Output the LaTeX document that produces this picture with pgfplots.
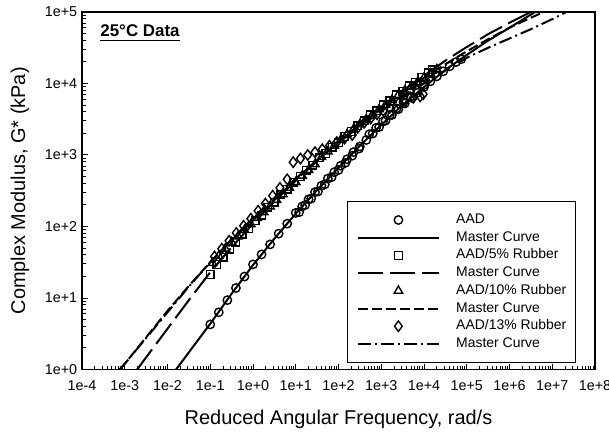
\documentclass[border=0pt]{standalone}
\usepackage{pgfplots}
\pgfplotsset{compat=1.18}
\usepackage{fontspec}
\setmainfont{Liberation Sans}
\begin{document}
\begin{tikzpicture}
\begin{loglogaxis}[
  name=ax,
  scale only axis,
  width=256.5bp, height=178.75bp,
  xmin=1e-4, xmax=1e8, ymin=1, ymax=1e5,
  xtickten={-4,-3,-2,-1,0,1,2,3,4,5,6,7,8},
  ytickten={0,1,2,3,4,5},
  minor xtick={2e-4,3e-4,4e-4,5e-4,6e-4,7e-4,8e-4,9e-4,
    2e-3,3e-3,4e-3,5e-3,6e-3,7e-3,8e-3,9e-3,
    2e-2,3e-2,4e-2,5e-2,6e-2,7e-2,8e-2,9e-2,
    0.2,0.3,0.4,0.5,0.6,0.7,0.8,0.9,
    2,3,4,5,6,7,8,9,
    20,30,40,50,60,70,80,90,
    200,300,400,500,600,700,800,900,
    2e3,3e3,4e3,5e3,6e3,7e3,8e3,9e3,
    2e4,3e4,4e4,5e4,6e4,7e4,8e4,9e4,
    2e5,3e5,4e5,5e5,6e5,7e5,8e5,9e5,
    2e6,3e6,4e6,5e6,6e6,7e6,8e6,9e6,
    2e7,3e7,4e7,5e7,6e7,7e7,8e7,9e7},
  minor ytick={2,3,4,5,6,7,8,9,
    20,30,40,50,60,70,80,90,
    200,300,400,500,600,700,800,900,
    2e3,3e3,4e3,5e3,6e3,7e3,8e3,9e3,
    2e4,3e4,4e4,5e4,6e4,7e4,8e4,9e4},
  xticklabels={1e-4,1e-3,1e-2,1e-1,1e+0,1e+1,1e+2,1e+3,1e+4,1e+5,1e+6,1e+7,1e+8},
  yticklabels={1e+0,1e+1,1e+2,1e+3,1e+4,1e+5},
  /pgf/number format/assume math mode=true,
  tick pos=left, tick align=inside,
  major tick length=3bp, minor tick length=2bp,
  every tick/.style={black, line width=0.5bp},
  axis line style={line width=0.75bp},
  tick label style={font=\fontsize{7.2}{8}\selectfont, inner sep=0pt},
  xticklabel shift=5.2bp,
  yticklabel shift=2.2bp,
  every axis x label/.style={at={(rel axis cs:0.5,0)}, yshift=-24.75bp, anchor=center},
  every axis y label/.style={at={(rel axis cs:0,0.5)}, xshift=-31bp, rotate=90, anchor=center},
  label style={font=\fontsize{10}{12}\selectfont},
  xlabel={Reduced Angular Frequency, rad/s},
  ylabel={Complex Modulus, G* (kPa)},
  legend image code/.code={\path[draw=none,fill=none] (0bp,-2bp) rectangle (40.8bp,2bp);
    \draw[mark repeat=2,mark phase=2] plot coordinates {(0bp,0bp) (20.4bp,0bp) (40.8bp,0bp)};},
  legend style={at={(rel axis cs:1,0)}, anchor=south east, xshift=-9.5bp, yshift=3.4bp,
    draw=black, line width=0.5bp, inner xsep=4.6bp, inner ysep=5.9bp,
    font=\fontsize{7}{8}\selectfont, row sep=2.35bp, column sep=8bp,
    nodes={inner sep=0pt, text height=5bp, text depth=1.5bp}},
  legend cell align=left,
]
% AAD data
\addplot[only marks, mark=o, mark size=2.1bp, mark options={line width=0.7bp}] coordinates {
(0.1,4.27) (0.1585,6.31) (0.2512,9.33) (0.3981,13.8) (0.631,19.95) (1,29.5) (1.585,40.7) (2.512,56.2) (3.981,79.4) (6.31,109.6) (10,154.9) (14.13,190.5) (19.95,239.9) (28.18,302) (39.81,371.5) (56.23,467.7) (79.43,575.4) (112.2,707.9) (158.5,871) (223.9,1096) (316.2,1318) (446.7,1622) (631,1995) (891.3,2455) (1259,3020) (1778,3631) (2512,4365) (3548,5248) (5012,6310) (7079,7413) (1e4,8913) (14130,10720) (19950,12590) (28180,14790) (39810,17380) (56230,19950) (74130,21880)
(12.02,158.5) (16.6,199.5) (22.91,245.5) (33.11,309) (47.86,389) (69.18,489.8) (100,616.6) (144.5,776.2) (208.9,977.2) (302,1230)
(524.8,1950) (758.6,2399) (1096,2951) (1585,3631) (2291,4467) (3311,5495) (4786,6607) (6918,7943) (1e4,9550)
};
\addlegendentry{AAD}
\addplot[line width=1bp] coordinates {
(1.585e-2,1) (3.162e-2,1.738) (0.1,4.365) (0.3162,11.48) (1,28.84) (3.162,67.6) (10,151.4) (31.62,323.6) (100,660.7) (316.2,1349) (1000,2630) (3162,5012) (1e4,8913) (3.162e4,15490) (1e5,25120) (3.162e5,39810) (1e6,60260) (3.981e6,1e5)
};
\addlegendentry{Master Curve}
% 5% data
\addplot[only marks, mark=square, mark size=1.9bp, mark options={line width=0.7bp}] coordinates {
(0.1,21.38) (0.1413,29.51) (0.1995,37.15) (0.2818,47.86) (0.3981,60.26) (0.5623,77.62) (0.7943,93.33) (1.122,120.2) (1.585,144.5) (2.239,186.2) (3.162,218.8) (4.467,281.8) (6.31,331.1) (8.913,416.9) (12.59,501.2) (17.78,616.6) (25.12,724.4) (35.48,912) (50.12,1047) (70.79,1288) (100,1479) (141.3,1820) (199.5,2138) (281.8,2570) (398.1,3020) (562.3,3631) (794.3,4169) (1122,5012) (1585,5754) (2239,6918) (3162,7762) (4467,9333) (6310,10470) (8913,12300) (12590,14130) (15850,15490)
};
\addlegendentry{AAD/5\% Rubber}
\addplot[line width=1bp, dash pattern=on 12.5bp off 3.5bp] coordinates {
(1.95e-3,1) (3.162e-3,1.479) (1e-2,3.715) (3.162e-2,9.333) (0.1,22.91) (0.3162,51.29) (1,109.6) (3.162,223.9) (10,436.5) (31.62,831.8) (100,1514) (316.2,2692) (1000,4677) (3162,7943) (1e4,12880) (3.162e4,20890) (1e5,32360) (3.162e5,48980) (1e6,70790) (3.162e6,1e5)
};
\addlegendentry{Master Curve}
% 10% data
\addplot[only marks, mark=triangle, mark size=2.4bp, mark options={line width=0.7bp}] coordinates {
(0.1122,30.9) (0.1585,38.9) (0.2239,49.0) (0.3162,60.26) (0.4467,72.44) (0.631,89.13) (0.8913,107.2) (1.259,131.8) (1.778,158.5) (2.512,190.5) (3.548,234.4) (5.012,281.8) (7.079,346.7) (10,416.9) (14.13,512.9) (19.95,616.6) (28.18,741.3) (39.81,933.3) (56.23,1122) (79.43,1349) (112.2,1622) (158.5,1950) (223.9,2291) (316.2,2692) (446.7,3162) (631,3715) (891.3,4365) (1259,5012) (1778,5888) (2512,6918) (3548,7943) (5012,9120) (7079,10470) (1e4,12020) (14130,13800) (19950,15850)
};
\addlegendentry{AAD/10\% Rubber}
\addplot[line width=1bp, dash pattern=on 5bp off 2bp] coordinates {
(7.586e-4,1) (1e-3,1.202) (3.162e-3,2.818) (1e-2,6.607) (3.162e-2,14.79) (0.1,31.62) (0.3162,64.57) (1,123.0) (3.162,234.4) (10,446.7) (31.62,831.8) (100,1514) (316.2,2630) (1000,4467) (3162,7413) (1e4,12020) (3.162e4,18620) (1e5,28180) (3.162e5,41690) (1e6,60260) (3.162e6,83180) (6.31e6,1e5)
};
\addlegendentry{Master Curve}
% 13% data
\addplot[only marks, mark=diamond, mark size=2.6bp, mark options={line width=0.7bp}] coordinates {
(0.1259,38.02) (0.1862,49.0) (0.2754,63.1) (0.4074,81.3) (0.6026,102.3) (0.8913,128.8) (1.318,166) (1.95,208.9) (2.884,269.2) (4.266,346.7) (6.31,457.1)
(8.71,794.3) (12.88,891.3) (19.05,1000) (28.18,1096) (41.69,1202) (61.66,1349) (91.2,1514) (138,1698) (208.9,1905)
(281.8,2399) (398.1,2818) (562.3,3236) (794.3,3715) (1122,4169)
(1585,4571) (2512,5248) (3631,5754) (5623,6310) (8128,6607) (9550,7079)
};
\addlegendentry{AAD/13\% Rubber}
\addplot[line width=1bp, dash pattern=on 6.5bp off 2bp on 1bp off 2bp] coordinates {
(7.586e-4,1) (1e-3,1.202) (3.162e-3,2.754) (1e-2,6.31) (3.162e-2,14.45) (0.1,31.62) (0.3162,66.07) (1,131.8) (3.162,251.2) (10,467.7) (31.62,851.1) (100,1479) (316.2,2512) (1000,4074) (3162,6457) (1e4,10000) (3.162e4,15140) (1e5,22910) (3.162e5,31620) (1e6,42660) (3.162e6,57540) (1e7,79430) (2.138e7,1e5)
};
\addlegendentry{Master Curve}
\node[anchor=base west, font=\fontsize{8.5}{10}\selectfont\bfseries, inner sep=0pt] at (rel axis cs:0,1) [xshift=9bp, yshift=-12.5bp] {\underline{25°C Data}};
\end{loglogaxis}
\pgfresetboundingbox
\path ([shift={(-41bp,-31.25bp)}]ax.south west) rectangle ([shift={(7bp,6bp)}]ax.north east);
\end{tikzpicture}
\end{document}
